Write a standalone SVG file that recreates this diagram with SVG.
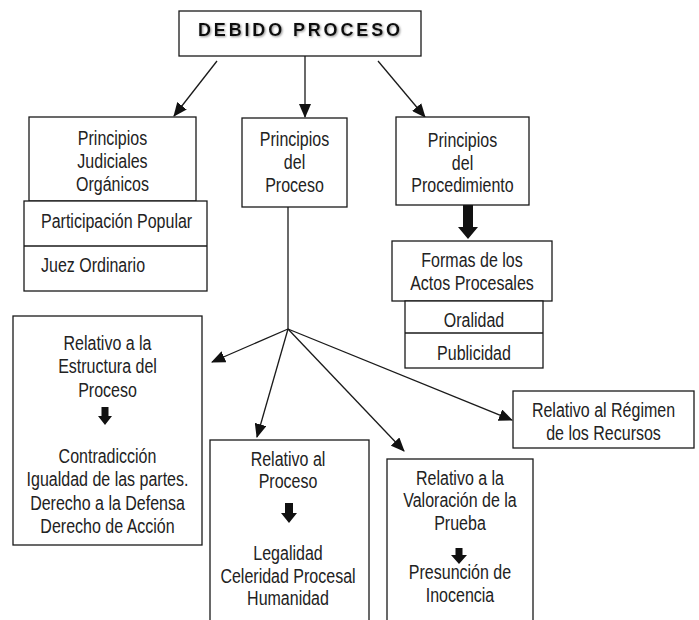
<svg xmlns="http://www.w3.org/2000/svg" width="699" height="620" viewBox="0 0 699 620">
<defs>
<marker id="ah" markerUnits="userSpaceOnUse" markerWidth="14" markerHeight="12" viewBox="0 0 14 12" refX="13" refY="6" orient="auto">
<path d="M0,0 L14,6 L0,12 Z" fill="#111"/>
</marker>
<filter id="sh" x="-10%" y="-30%" width="120%" height="160%">
<feDropShadow dx="1" dy="1" stdDeviation="0.8" flood-color="#777" flood-opacity="0.8"/>
</filter>
</defs>
<style>
rect{fill:#fff;stroke:#1a1a1a;stroke-width:1.3}
.dv{stroke:#1a1a1a;stroke-width:1.3}
.t{font-family:"Liberation Sans",Arial,sans-serif;font-size:20px;fill:#222;text-anchor:middle}
.l{text-anchor:start}
.ttl{font-family:"Liberation Sans",Arial,sans-serif;font-size:18px;font-weight:bold;fill:#111}
.c line{stroke:#1a1a1a;stroke-width:1.3;marker-end:url(#ah)}
.c line.p{marker-end:none}
.ba{fill:#111}
</style>
<rect width="699" height="620" style="fill:#fff;stroke:none"/>

<g id="connectors" class="c">
<line x1="217" y1="61" x2="174" y2="116"/>
<line x1="305" y1="56" x2="305" y2="117"/>
<line x1="378" y1="61" x2="425" y2="117"/>
<line class="p" x1="288" y1="207" x2="288" y2="329"/>
<line x1="288" y1="329" x2="212" y2="362"/>
<line x1="288" y1="329" x2="257" y2="437"/>
<line x1="288" y1="329" x2="404" y2="451"/>
<line x1="288" y1="329" x2="512" y2="420"/>
<path class="ba" d="M463,205 L473,205 L473,227 L478,227 L468,239 L458,227 L463,227 Z"/>
</g>

<g id="debido">
<rect x="179" y="11" width="242" height="45"/>
<text class="ttl" x="198" y="36" textLength="202" lengthAdjust="spacing" filter="url(#sh)">DEBIDO PROCESO</text>
</g>

<g id="judiciales">
<rect x="29" y="117" width="167" height="84"/>
<text class="t" transform="translate(112.5 145) scale(0.8 1)"><tspan x="0" y="0">Principios</tspan><tspan x="0" y="23">Judiciales</tspan><tspan x="0" y="46">Orgánicos</tspan></text>
</g>
<g id="judiciales-items">
<rect x="24" y="201" width="183" height="90"/>
<line class="dv" x1="24" y1="246" x2="207" y2="246"/>
<text class="t l" transform="translate(41 228) scale(0.8 1)">Participación Popular</text>
<text class="t l" transform="translate(41 272) scale(0.8 1)">Juez Ordinario</text>
</g>

<g id="proceso">
<rect x="242" y="118" width="105" height="89"/>
<text class="t" transform="translate(294.5 146) scale(0.8 1)"><tspan x="0" y="0">Principios</tspan><tspan x="0" y="23">del</tspan><tspan x="0" y="46">Proceso</tspan></text>
</g>

<g id="procedimiento">
<rect x="396" y="117" width="133" height="88"/>
<text class="t" transform="translate(462.5 147) scale(0.8 1)"><tspan x="0" y="0">Principios</tspan><tspan x="0" y="23">del</tspan><tspan x="0" y="45">Procedimiento</tspan></text>
</g>

<g id="formas">
<rect x="392" y="241" width="160" height="60"/>
<text class="t" transform="translate(472 267) scale(0.8 1)"><tspan x="0" y="0">Formas de los</tspan><tspan x="0" y="23">Actos Procesales</tspan></text>
</g>
<g id="formas-items">
<rect x="405" y="301" width="138" height="67"/>
<line class="dv" x1="405" y1="333" x2="543" y2="333"/>
<text class="t" transform="translate(474 327) scale(0.8 1)">Oralidad</text>
<text class="t" transform="translate(474 360) scale(0.8 1)">Publicidad</text>
</g>

<g id="estructura">
<rect x="13" y="316" width="189" height="229"/>
<text class="t" transform="translate(107.5 350) scale(0.8 1)"><tspan x="0" y="0">Relativo a la</tspan><tspan x="0" y="23.5">Estructura del</tspan><tspan x="0" y="47">Proceso</tspan><tspan x="0" y="113">Contradicción</tspan><tspan x="0" y="136.5">Igualdad de las partes.</tspan><tspan x="0" y="160">Derecho a la Defensa</tspan><tspan x="0" y="183">Derecho de Acción</tspan></text>
<path class="ba" d="M101.5,407 L108.5,407 L108.5,416 L112,416 L105,425 L98,416 L101.5,416 Z"/>
</g>

<g id="rel-proceso">
<rect x="210" y="440" width="159" height="200"/>
<text class="t" transform="translate(288 466) scale(0.8 1)"><tspan x="0" y="0">Relativo al</tspan><tspan x="0" y="22">Proceso</tspan><tspan x="0" y="94">Legalidad</tspan><tspan x="0" y="117">Celeridad Procesal</tspan><tspan x="0" y="139">Humanidad</tspan></text>
<path class="ba" d="M285,503 L293,503 L293,513 L297,513 L289,523 L281,513 L285,513 Z"/>
</g>

<g id="valoracion">
<rect x="387" y="459" width="146" height="200"/>
<text class="t" transform="translate(460 485) scale(0.8 1)"><tspan x="0" y="0">Relativo a la</tspan><tspan x="0" y="22.5">Valoración de la</tspan><tspan x="0" y="45">Prueba</tspan><tspan x="0" y="94">Presunción de</tspan><tspan x="0" y="117">Inocencia</tspan></text>
<path class="ba" d="M455.5,548 L462.5,548 L462.5,555 L467,555 L459,564 L451,555 L455.5,555 Z"/>
</g>

<g id="recursos">
<rect x="513" y="391" width="181" height="57"/>
<text class="t" transform="translate(603.5 417) scale(0.8 1)"><tspan x="0" y="0">Relativo al Régimen</tspan><tspan x="0" y="23">de los Recursos</tspan></text>
</g>
</svg>
